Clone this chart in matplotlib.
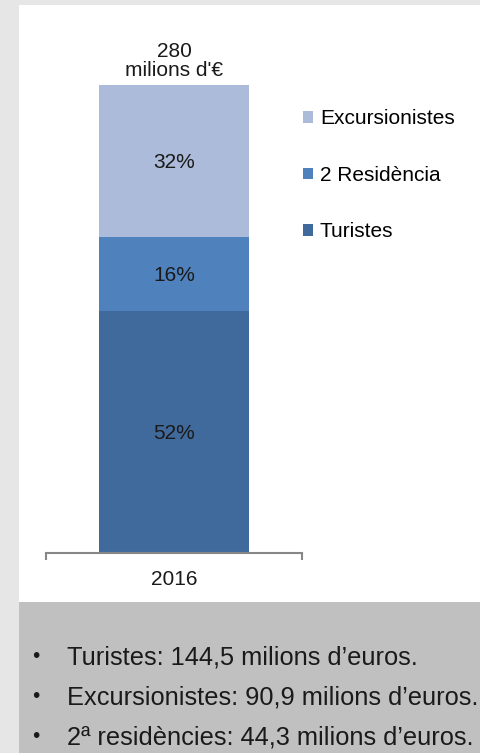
import matplotlib.pyplot as plt
from matplotlib.patches import Rectangle

plt.rcParams['font.family'] = ['Liberation Sans', 'DejaVu Sans']

# dades (milions d'euros)
categories = ['Turistes', '2 Residència', 'Excursionistes']
values = [144.5, 44.3, 90.9]
pct_labels = ['52%', '16%', '32%']
colors = ['#416a9c', '#4f81bd', '#abbbd9']
year = '2016'
total_label = "280\nmilions d'€"
bullets = ['Turistes: 144,5 milions d’euros.',
           'Excursionistes: 90,9 milions d’euros.',
           '2ª residències: 44,3 milions d’euros.']

W, H = 480, 753
fig = plt.figure(figsize=(W / 100, H / 100), dpi=100, facecolor='#e6e6e6')

def fx(px):
    return px / W

def fy(py):
    return 1 - py / H

# panell blanc i caixa gris
fig.patches.append(Rectangle((fx(19), fy(602)), 1 - fx(19), fy(5) - fy(602), zorder=-5,
                             transform=fig.transFigure, facecolor='white', edgecolor='none'))
fig.patches.append(Rectangle((fx(19), 0), 1 - fx(19), fy(602), zorder=-5,
                             transform=fig.transFigure, facecolor='#c0c0c0', edgecolor='none'))

ax = fig.add_axes([fx(46), fy(552.5), fx(302) - fx(46), fy(85) - fy(552.5)])
ax.set_facecolor('none')
half = 128 / 150
ax.set_xlim(-half, half)
ax.set_ylim(0, sum(values))

bottom = 0
for cat, v, c, lab in zip(categories, values, colors, pct_labels):
    ax.bar(0, v, width=1.0, bottom=bottom, color=c, label=cat)
    ax.text(0, bottom + v / 2, lab, ha='center', va='center_baseline', fontsize=15,
            color='#1a1a1a')
    bottom += v

ax.text(0, bottom + 3, total_label, ha='center', va='bottom', fontsize=15,
        linespacing=1.0, color='#1a1a1a')

for s in ['top', 'left', 'right']:
    ax.spines[s].set_visible(False)
ax.spines['bottom'].set_color('#878787')
ax.spines['bottom'].set_linewidth(1.5)
ax.set_yticks([])
ax.set_xticks([-half, half])
ax.set_xticklabels(['', ''])
ax.tick_params(axis='x', length=5, width=1.5, color='#878787', direction='out')
ax.text(0, -0.057, year, transform=ax.get_xaxis_transform(), ha='center', va='center',
        fontsize=15, color='#1a1a1a')

# llegenda
handles, labels = ax.get_legend_handles_labels()
leg = fig.legend(handles[::-1], labels[::-1], loc='upper left',
                 bbox_to_anchor=(fx(295), fy(101)), frameon=False, fontsize=15,
                 handlelength=0.45, handleheight=0.45, handletextpad=0.35,
                 labelspacing=1.8, borderaxespad=0)

# text de punts
for i, t in enumerate(bullets):
    y = fy(657 + 40 * i)
    fig.text(fx(36), y, '•', ha='center', va='center', fontsize=15, color='#1a1a1a')
    fig.text(fx(67), y, t, ha='left', va='center', fontsize=18.3, color='#1a1a1a')

fig.savefig('out.png', dpi=100, facecolor=fig.get_facecolor())
